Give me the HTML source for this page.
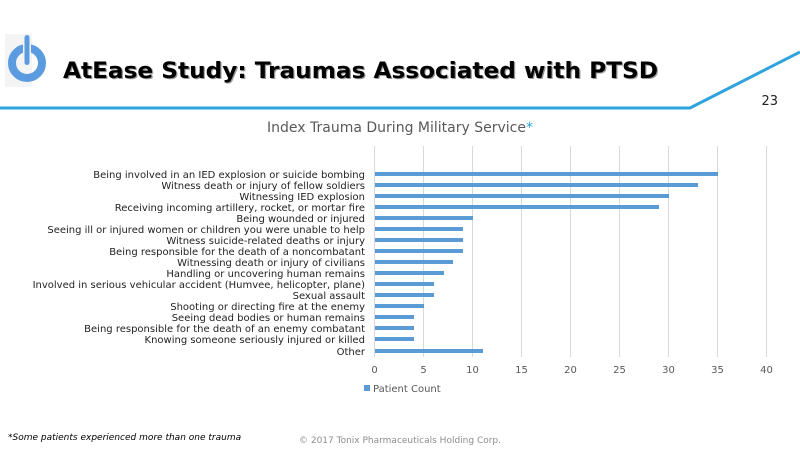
<!DOCTYPE html>
<html><head><meta charset="utf-8"><style>
body{margin:0;width:800px;height:450px;background:#fff;overflow:hidden;font-family:"DejaVu Sans","Liberation Sans",sans-serif}
</style></head><body>
<svg width="800" height="450" xmlns="http://www.w3.org/2000/svg" font-family="DejaVu Sans, Liberation Sans, sans-serif">
<rect x="5" y="34" width="27" height="53" fill="#f4f4f4"/>
<circle cx="27" cy="63" r="15" fill="none" stroke="#5b9be0" stroke-width="8"/>
<rect x="23" y="35" width="8" height="30" fill="#f4f4f4"/>
<rect x="24.5" y="35" width="5" height="30" rx="2.5" fill="#5b9be0"/>
<text x="63" y="78" font-size="22" font-weight="bold" fill="#999" transform="translate(1.2,1.2)" textLength="595" lengthAdjust="spacingAndGlyphs">AtEase Study: Traumas Associated with PTSD</text>
<text x="63" y="78" font-size="22" font-weight="bold" fill="#000" textLength="595" lengthAdjust="spacingAndGlyphs">AtEase Study: Traumas Associated with PTSD</text>
<polyline points="0,108 690,108 800,52" fill="none" stroke="#2ea3dc" stroke-width="3"/>
<text x="778" y="105" font-size="13" text-anchor="end" fill="#222">23</text>
<text x="400" y="132" font-size="14" text-anchor="middle" fill="#595959">Index Trauma During Military Service<tspan fill="#2ea3dc">*</tspan></text>
<g stroke="#d9d9d9" stroke-width="1">
<line x1="374.5" y1="146" x2="374.5" y2="357"/><line x1="423.5" y1="146" x2="423.5" y2="357"/><line x1="472.5" y1="146" x2="472.5" y2="357"/><line x1="521.5" y1="146" x2="521.5" y2="357"/><line x1="570.5" y1="146" x2="570.5" y2="357"/><line x1="619.5" y1="146" x2="619.5" y2="357"/><line x1="668.5" y1="146" x2="668.5" y2="357"/><line x1="717.5" y1="146" x2="717.5" y2="357"/><line x1="766.5" y1="146" x2="766.5" y2="357"/>
</g>
<g font-size="10" fill="#595959" text-anchor="middle">
<text x="374.5" y="373">0</text><text x="423.5" y="373">5</text><text x="472.5" y="373">10</text><text x="521.5" y="373">15</text><text x="570.5" y="373">20</text><text x="619.5" y="373">25</text><text x="668.5" y="373">30</text><text x="717.5" y="373">35</text><text x="766.5" y="373">40</text>
</g>
<g fill="#5b9bd5">
<rect x="375" y="172" width="343" height="4"/>
<rect x="375" y="183" width="323" height="4"/>
<rect x="375" y="194" width="294" height="4"/>
<rect x="375" y="205" width="284" height="4"/>
<rect x="375" y="216" width="98" height="4"/>
<rect x="375" y="227" width="88" height="4"/>
<rect x="375" y="238" width="88" height="4"/>
<rect x="375" y="249" width="88" height="4"/>
<rect x="375" y="260" width="78" height="4"/>
<rect x="375" y="271" width="69" height="4"/>
<rect x="375" y="282" width="59" height="4"/>
<rect x="375" y="293" width="59" height="4"/>
<rect x="375" y="304" width="49" height="4"/>
<rect x="375" y="315" width="39" height="4"/>
<rect x="375" y="326" width="39" height="4"/>
<rect x="375" y="337" width="39" height="4"/>
<rect x="375" y="349" width="108" height="4"/>
</g>
<g font-size="10" fill="#222" text-anchor="end">
<text x="365" y="178">Being involved in an IED explosion or suicide bombing</text>
<text x="365" y="189">Witness death or injury of fellow soldiers</text>
<text x="365" y="200">Witnessing IED explosion</text>
<text x="365" y="211">Receiving incoming artillery, rocket, or mortar fire</text>
<text x="365" y="222">Being wounded or injured</text>
<text x="365" y="233">Seeing ill or injured women or children you were unable to help</text>
<text x="365" y="244">Witness suicide-related deaths or injury</text>
<text x="365" y="255">Being responsible for the death of a noncombatant</text>
<text x="365" y="266">Witnessing death or injury of civilians</text>
<text x="365" y="277">Handling or uncovering human remains</text>
<text x="365" y="288">Involved in serious vehicular accident (Humvee, helicopter, plane)</text>
<text x="365" y="299">Sexual assault</text>
<text x="365" y="310">Shooting or directing fire at the enemy</text>
<text x="365" y="321">Seeing dead bodies or human remains</text>
<text x="365" y="332">Being responsible for the death of an enemy combatant</text>
<text x="365" y="343">Knowing someone seriously injured or killed</text>
<text x="365" y="355">Other</text>
</g>
<rect x="364" y="385" width="6" height="6" fill="#5b9bd5"/>
<text x="373" y="392" font-size="10" fill="#595959">Patient Count</text>
<text x="8" y="440" font-size="9" font-style="italic" fill="#000">*Some patients experienced more than one trauma</text>
<text x="400" y="443" font-size="9" text-anchor="middle" fill="#8c8c8c">© 2017 Tonix Pharmaceuticals Holding Corp.</text>
</svg>
</body></html>
